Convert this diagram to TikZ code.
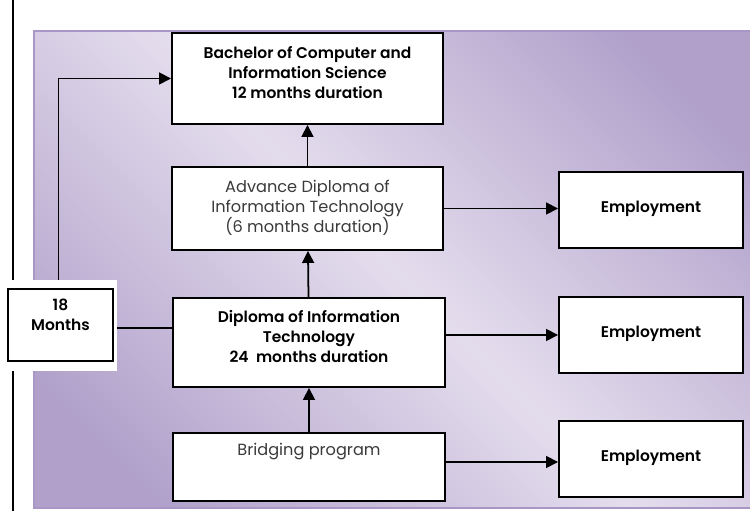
\documentclass[tikz,border=0pt]{standalone}
\usepackage{fontspec}
\setmainfont{Poppins}[BoldFont={* SemiBold}]
\usetikzlibrary{arrows.meta,positioning}

\definecolor{bgdark}{HTML}{B0A0CA}
\definecolor{bglight}{HTML}{E4DDED}
\definecolor{bgedge}{HTML}{A896C6}
\definecolor{softgray}{HTML}{3A3A3A}

% dark corners, light band along the other diagonal
\pgfdeclarehorizontalshading{lavender}{100bp}{color(0bp)=(bgdark); color(22bp)=(bgdark); color(50bp)=(bglight); color(78bp)=(bgdark); color(100bp)=(bgdark)}

\tikzset{
  stage/.style={draw=black, line width=1.1pt, fill=white, align=center, inner sep=0pt,
    font=\fontsize{8.8}{11.4}\selectfont\bfseries},
  plain/.style={text=softgray, font=\fontsize{9.2}{11.4}\selectfont},
  % last baseline sits #1 below the top edge
  toptext/.style 2 args={text height=#1, text depth=#2},
  flow/.style={line width=1pt, -{Triangle[length=0.24cm,width=0.24cm]}},
  link/.style={line width=1pt}
}

\begin{document}
\begin{tikzpicture}
\useasboundingbox (0,0) rectangle (15,10.22);
% backdrop
\shade[shading=lavender, shading angle=45, draw=bgedge, line width=1.1pt] (0.68,0.06) rectangle (15.1,9.6);
\draw[line width=1.1pt] (0.26,0) -- (0.26,10.22);
\node[fill=white, minimum width=2.34cm, minimum height=1.82cm, inner sep=0pt] (gap) at (1.17,3.71) {};

% programmes
\node[stage, minimum width=2.1cm, toptext={0.84cm}{0.60cm}] (months) at (1.21,3.72) {18\\Months};
\node[stage, minimum width=5.42cm, toptext={1.31cm}{0.51cm}] (bach) at (6.15,8.65)
  {Bachelor of Computer and\\Information Science\\12 months duration};
\node[stage, plain, minimum width=5.42cm, toptext={1.32cm}{0.34cm}] (adv) at (6.15,6.05)
  {Advance Diploma of\\Information Technology\\(6 months duration)};
\node[stage, minimum width=5.44cm, toptext={1.30cm}{0.48cm}] (dip) at (6.18,3.37)
  {Diploma of Information\\Technology\\24~ months duration};
\node[stage, plain, minimum width=5.44cm, toptext={0.46cm}{0.90cm}] (bridge) at (6.18,0.88)
  {Bridging program};

% jobs
\foreach \y/\n in {6.02/jobA, 3.52/jobB, 1.04/jobC}
  \node[stage, minimum width=3.68cm, toptext={0.82cm}{0.70cm}] (\n) at (13.02,\y) {Employment};

% arrows
\draw[flow] (adv) -- (bach);
\draw[flow] (dip) -- (adv);
\draw[flow] (bridge) -- (dip);
\draw[flow] (adv.east) -- (adv.east -| jobA.west);
\draw[flow] (dip.east |- jobB) -- (jobB.west);
\draw[flow] (bridge.east |- 0,0.98) -- (jobC.west |- 0,0.98);
\draw[flow] (gap.north) |- (bach.west);
\draw[link] (gap.east |- 0,3.66) -- (dip.west |- 0,3.66);
\end{tikzpicture}
\end{document}
